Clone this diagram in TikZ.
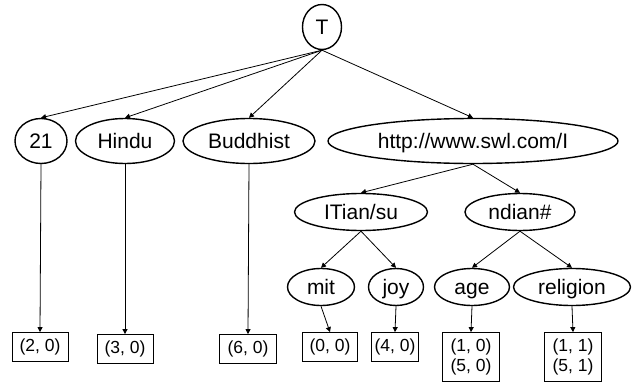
\documentclass[tikz,border=0pt]{standalone}
\usepackage{fontspec}
\setmainfont{Liberation Sans}
\usepackage{tikz}
\usetikzlibrary{shapes.geometric, arrows.meta}
\tikzstyle{entity} = [
    ellipse,
    minimum height=45pt, inner sep=0pt,
    text centered, text height=15pt, text depth=0pt,
    draw=black, line width=1.4pt,
    font=\fontsize{21}{24}\selectfont]
\tikzstyle{subentity} = [entity, minimum height=37pt]
\tikzstyle{value} = [
    rectangle,
    minimum height=29pt, inner sep=0pt,
    align=center, text height=13pt, text depth=4pt,
    draw=black, line width=0.8pt,
    font=\fontsize{17.5}{20}\selectfont]
\tikzstyle{twovalue} = [value, minimum height=49pt, text height=33pt]
\tikzstyle{arrow} = [line width=0.8pt, -{Triangle[length=5pt,width=5pt]}]

\begin{document}
\begin{tikzpicture}[x=1pt, y=-1pt]
        \useasboundingbox (0,0) rectangle (633,383);

        \node (root) [entity, minimum width=39pt] at (322,27) {T};

        \node (age21) [entity, minimum width=52pt] at (41,141) {21};
        \node (hindu) [entity, minimum width=99pt] at (125,141) {Hindu};
        \node (buddhist) [entity, minimum width=132pt] at (249,141) {Buddhist};
        \node (url) [entity, minimum width=290pt] at (473,141) {http://www.swl.com/I};

        \node (itian) [subentity, minimum width=133pt] at (361,212) {ITian/su};
        \node (ndian) [subentity, minimum width=110pt] at (520,212) {ndian\#};

        \node (mit) [subentity, minimum width=67pt] at (321,287) {mit};
        \node (joy) [subentity, minimum width=55pt] at (396,287) {joy};
        \node (age) [subentity, minimum width=75pt] at (472,287) {age};
        \node (religion) [subentity, minimum width=117pt] at (572,287) {religion};

        \node (val21) [value, minimum width=56pt] at (40,347) {(2, 0)};
        \node (valhindu) [value, minimum width=56pt] at (125,349) {(3, 0)};
        \node (valbuddhist) [value, minimum width=57pt] at (248,349) {(6, 0)};
        \node (valmit) [value, minimum width=55pt] at (330,347) {(0, 0)};
        \node (valjoy) [value, minimum width=47pt] at (395,347) {(4, 0)};
        \node (valage) [twovalue, minimum width=57pt] at (471,357) {(1, 0)\\(5, 0)};
        \node (valreligion) [twovalue, minimum width=57pt] at (573,357) {(1, 1)\\(5, 1)};

        
        \draw [arrow] (root.south) -- (age21.north);
        \draw [arrow] (root.south) -- (hindu.north);
        \draw [arrow] (root.south) -- (buddhist.north);
        \draw [arrow] (root.south) -- (url.north);

        \draw [arrow] (url.south) -- (itian.north);
        \draw [arrow] (url.south) -- (ndian.north);

        \draw [arrow] (itian.south) -- (mit.north);
        \draw [arrow] (itian.south) -- (joy.north);
        \draw [arrow] (ndian.south) -- (age.north);
        \draw [arrow] (ndian.south) -- (religion.north);

        \draw [arrow] (age21.south) -- (val21.north);
        \draw [arrow] (hindu.south) -- (valhindu.north);
        \draw [arrow] (buddhist.south) -- (valbuddhist.north);
        \draw [arrow] (mit.south) -- (valmit.north);
        \draw [arrow] (joy.south) -- (valjoy.north);
        \draw [arrow] (age.south) -- (valage.north);
        \draw [arrow] (religion.south) -- (valreligion.north);
    \end{tikzpicture}
\end{document}
